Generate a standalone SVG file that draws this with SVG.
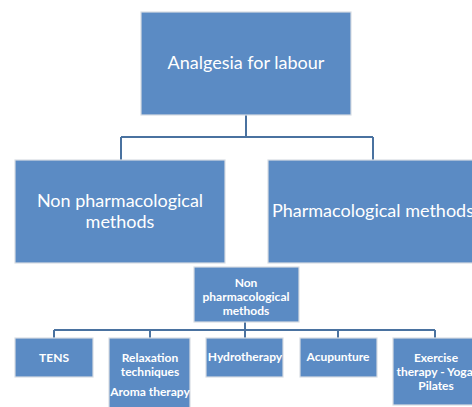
<svg xmlns="http://www.w3.org/2000/svg" width="472" height="407" viewBox="0 0 472 407">
<style>
.box{fill:#5B8BC4;stroke:#d8dde3;stroke-width:1.2}
.t{fill:#fff;font-family:Lato,"Open Sans",sans-serif;text-anchor:middle}
.big{font-size:18px}
.sm{font-size:12px;font-weight:bold}
.c{fill:none;stroke:#4A72A0;stroke-width:2}
</style>
<rect width="472" height="407" fill="#fff"/>
<g id="connectors">
<path class="c" d="M246 115V137M121 137H373M121 137V160M373 137V160"/>
<path class="c" d="M245 322V330M54 330H435M54 330V338M150 330V338M245 330V338M338 330V338M435 330V338"/>
</g>
<g id="root"><rect class="box" x="141" y="12" width="210" height="103"/><text class="t big" x="246" y="69">Analgesia for labour</text></g>
<g id="nonpharm"><rect class="box" x="15" y="160" width="210" height="103"/><text class="t big" x="120" y="207">Non pharmacological</text><text class="t big" x="120" y="228">methods</text></g>
<g id="pharm"><rect class="box" x="268" y="160" width="220" height="103"/><text class="t big" x="272" y="217" style="text-anchor:start">Pharmacological methods</text></g>
<g id="nonpharm2"><rect class="box" x="194" y="267" width="105" height="55"/><text class="t sm" x="246" y="287">Non</text><text class="t sm" x="246" y="301">pharmacological</text><text class="t sm" x="246" y="315">methods</text></g>
<g id="tens"><rect class="box" x="15" y="338" width="78" height="39"/><text class="t sm" x="54" y="362">TENS</text></g>
<g id="relax"><rect class="box" x="109" y="338" width="81" height="75"/><text class="t sm" x="150" y="362">Relaxation</text><text class="t sm" x="150" y="376">techniques</text><text class="t sm" x="150" y="396">Aroma therapy</text></g>
<g id="hydro"><rect class="box" x="206" y="338" width="77" height="39"/><text class="t sm" x="245" y="361">Hydrotherapy</text></g>
<g id="acu"><rect class="box" x="300" y="338" width="77" height="39"/><text class="t sm" x="338" y="361">Acupunture</text></g>
<g id="exercise"><rect class="box" x="393" y="338" width="90" height="67"/><text class="t sm" x="436" y="362">Exercise</text><text class="t sm" x="436" y="376">therapy - Yoga,</text><text class="t sm" x="436" y="390">Pilates</text></g>
</svg>
